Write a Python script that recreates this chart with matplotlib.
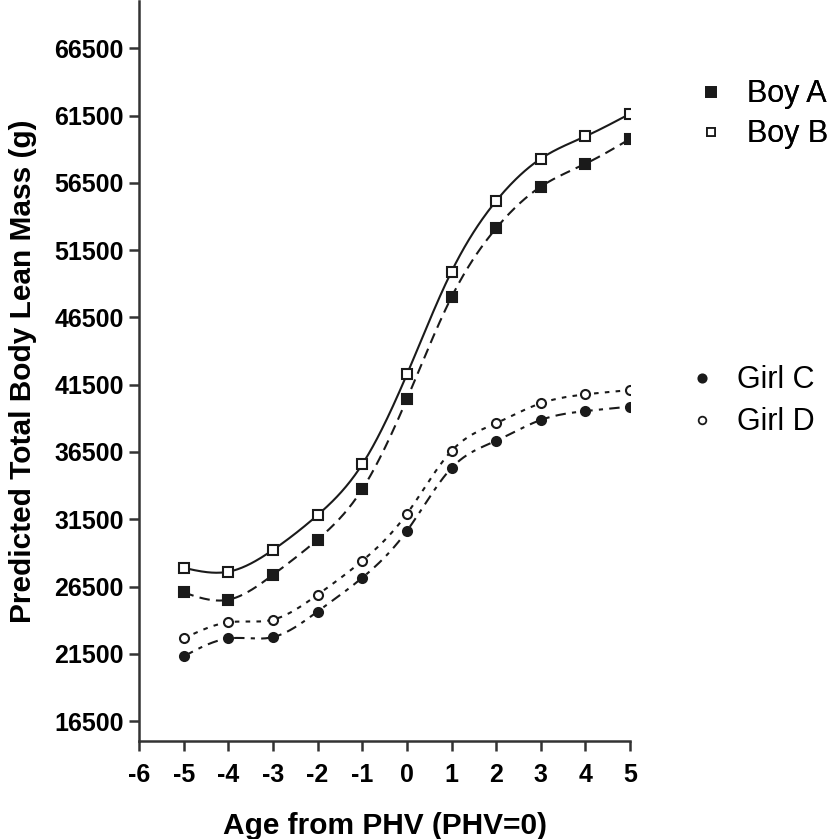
import numpy as np
import matplotlib
matplotlib.use("Agg")
import matplotlib.pyplot as plt
from matplotlib.lines import Line2D

# ---- data ----
age = [-5, -4, -3, -2, -1, 0, 1, 2, 3, 4, 5]
boy_a = [26060, 25520, 27370, 29990, 33730, 40430, 48010, 53130, 56220, 57920, 59770]
boy_b = [27890, 27600, 29220, 31810, 35580, 42260, 49910, 55160, 58300, 59960, 61640]
girl_c = [21310, 22640, 22740, 24640, 27150, 30630, 35310, 37330, 38880, 39540, 39870]
girl_d = [22640, 23840, 24040, 25890, 28410, 31900, 36580, 38640, 40120, 40780, 41100]
xticks = [-6, -5, -4, -3, -2, -1, 0, 1, 2, 3, 4, 5]
yticks = [16500, 21500, 26500, 31500, 36500, 41500, 46500, 51500, 56500, 61500, 66500]


def natural_spline(x, y, n=400):
    x = np.asarray(x, float)
    y = np.asarray(y, float)
    m = len(x)
    h = np.diff(x)
    A = np.zeros((m, m))
    b = np.zeros(m)
    A[0, 0] = 1
    A[-1, -1] = 1
    for i in range(1, m - 1):
        A[i, i - 1] = h[i - 1]
        A[i, i] = 2 * (h[i - 1] + h[i])
        A[i, i + 1] = h[i]
        b[i] = 3 * ((y[i + 1] - y[i]) / h[i] - (y[i] - y[i - 1]) / h[i - 1])
    c = np.linalg.solve(A, b)
    bb = (y[1:] - y[:-1]) / h - h * (2 * c[:-1] + c[1:]) / 3
    d = (c[1:] - c[:-1]) / (3 * h)
    xs = np.linspace(x[0], x[-1], n)
    idx = np.clip(np.searchsorted(x, xs) - 1, 0, m - 2)
    dx = xs - x[idx]
    ys = y[idx] + bb[idx] * dx + c[idx] * dx ** 2 + d[idx] * dx ** 3
    return xs, ys


plt.rcParams['font.family'] = ['Liberation Sans', 'DejaVu Sans']

fig = plt.figure(figsize=(8.31, 8.39), dpi=100)
ax = fig.add_axes([0.1673, 0.1165, 0.5909, 0.8820])

col = '#1a1a1a'
series = [
    (boy_b, 's', 'white', (0, ()), 'Boy B'),
    (boy_a, 's', col, (0, (5, 3)), 'Boy A'),
    (girl_d, 'o', 'white', (0, (2.2, 3)), 'Girl D'),
    (girl_c, 'o', col, (0, (5, 3, 2, 3)), 'Girl C'),
]
for ys, mk, fc, ls, lab in series:
    sx, sy = natural_spline(age, ys)
    ax.plot(sx, sy, color=col, lw=1.5, linestyle=ls)
    ax.plot(age, ys, linestyle='none', marker=mk, ms=7 if mk == 's' else 6.5,
            mfc=fc, mec=col, mew=1.5, zorder=3)

ax.set_xlim(-6, 5)
ax.set_ylim(15000, 70000)
ax.set_xticks(xticks)
ax.set_xticklabels([str(t) for t in xticks])
ax.set_yticks(yticks)
ax.set_yticklabels([str(t) for t in yticks])
for s in ['top', 'right']:
    ax.spines[s].set_visible(False)
for s in ['left', 'bottom']:
    ax.spines[s].set_linewidth(1.8)
    ax.spines[s].set_color('#333333')
ax.tick_params(direction='out', length=7, width=1.8, color='#333333',
               labelsize=18, pad=4)
ax.tick_params(axis='x', pad=9)
for lab in ax.get_xticklabels() + ax.get_yticklabels():
    lab.set_fontweight('bold')
ax.set_xlabel('Age from PHV (PHV=0)', fontsize=21.5, fontweight='bold')
ax.set_ylabel('Predicted Total Body Lean Mass (g)', fontsize=21.5, fontweight='bold')
# label positions (axes fraction)
ax.xaxis.set_label_coords(0.5, -0.095)
ax.yaxis.set_label_coords(-0.207, 0.5)

fs = 22
h_boys = [Line2D([], [], linestyle='none', marker='s', ms=7, mfc=col, mec=col, mew=1.3),
          Line2D([], [], linestyle='none', marker='s', ms=6, mfc='white', mec=col, mew=1.3)]
h_girls = [Line2D([], [], linestyle='none', marker='o', ms=6, mfc=col, mec=col, mew=1.3),
           Line2D([], [], linestyle='none', marker='o', ms=5.5, mfc='white', mec=col, mew=1.3)]
leg1 = fig.legend(h_boys, ['Boy A', 'Boy B'], loc='upper left',
                  bbox_to_anchor=(0.841, 0.9056), frameon=False, fontsize=fs,
                  borderpad=0, borderaxespad=0,
                  handletextpad=0.77, labelspacing=0.33, handlelength=0.8)
leg2 = fig.legend(h_girls, ['Girl C', 'Girl D'], loc='upper left',
                  bbox_to_anchor=(0.830, 0.5647), frameon=False, fontsize=fs,
                  borderpad=0, borderaxespad=0,
                  handletextpad=0.745, labelspacing=0.40, handlelength=0.8)
fig.add_artist(leg1)

fig.savefig('out.png', dpi=100)
